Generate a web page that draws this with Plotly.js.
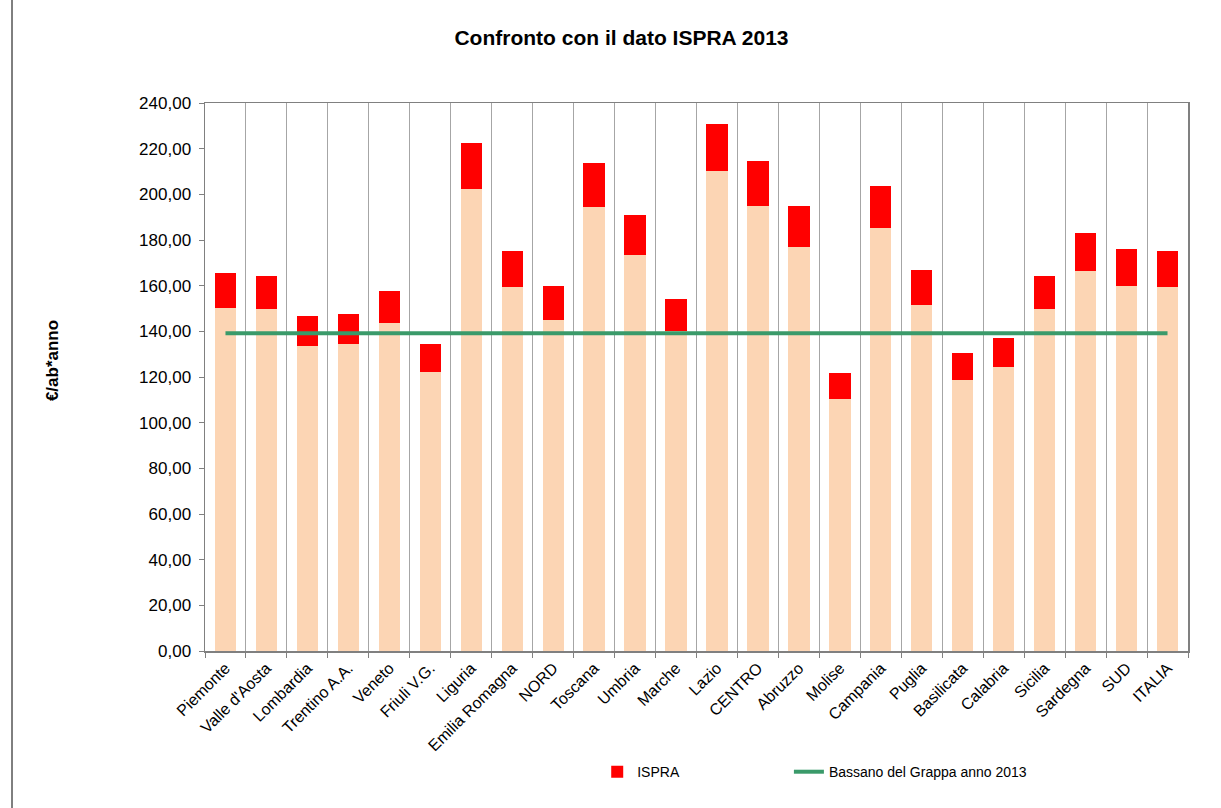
<!DOCTYPE html>
<html>
<head>
<meta charset="utf-8">
<script src="https://cdn.plot.ly/plotly-3.0.1.min.js"></script>
<style>html,body{margin:0;padding:0;background:#fff;}#chart{width:1221px;height:808px;}</style>
</head>
<body>
<div id="chart"></div>
<script>
const categories = ["Piemonte","Valle d'Aosta","Lombardia","Trentino A.A.","Veneto","Friuli V.G.","Liguria","Emilia Romagna","NORD","Toscana","Umbria","Marche","Lazio","CENTRO","Abruzzo","Molise","Campania","Puglia","Basilicata","Calabria","Sicilia","Sardegna","SUD","ITALIA"];
const baseValues = [150.1,149.8,133.6,134.3,143.5,122.1,202.2,159.3,145.0,194.3,173.5,140.3,210.2,194.8,177.0,110.2,185.1,151.4,118.6,124.3,149.7,166.3,159.9,159.3];
const ispraTotals = [165.4,164.1,146.7,147.5,157.5,134.3,222.4,175.1,159.7,213.7,190.8,154.0,230.8,214.6,194.8,121.6,203.5,166.7,130.4,137.0,164.1,182.9,175.9,175.1];
const bassanoValue = 139.2;

const ispraTop = ispraTotals.map((t, i) => +(t - baseValues[i]).toFixed(2));
const bassanoLine = categories.map(() => bassanoValue);

const traces = [
  {type:'bar', x:categories, y:baseValues, name:'base', showlegend:false,
   marker:{color:'#FCD5B4'}, hoverinfo:'y'},
  {type:'bar', x:categories, y:ispraTop, name:'ISPRA', legend:'legend',
   marker:{color:'#FF0000'}, customdata:ispraTotals, hovertemplate:'%{customdata}<extra>ISPRA</extra>'},
  {type:'scatter', mode:'lines', x:categories, y:bassanoLine, name:'Bassano del Grappa anno 2013', legend:'legend2',
   line:{color:'#3A9A6A', width:4}}
];

const legendCommon = {orientation:'h', y:-0.221, yanchor:'middle', font:{size:14}, bgcolor:'rgba(0,0,0,0)'};

const layout = {
  width:1221, height:808,
  margin:{l:205, r:33, t:103, b:157},
  barmode:'stack', bargap:0.48,
  separators:',.',
  paper_bgcolor:'#fff', plot_bgcolor:'#fff',
  font:{family:'"Liberation Sans", Arial, sans-serif', color:'#000', size:16},
  title:{text:'<b>Confronto con il dato ISPRA 2013</b>', font:{size:21, family:'"Liberation Sans", Arial, sans-serif'},
         x:0.509, xref:'container', xanchor:'center', y:0.953, yref:'container', yanchor:'middle'},
  xaxis:{type:'category', tickangle:-45, showgrid:true, gridcolor:'#A6A6A6', gridwidth:1,
         tickson:'boundaries', ticks:'outside', ticklen:5, tickcolor:'#808080',
         showline:true, linecolor:'#808080', linewidth:1.5, mirror:true,
         tickfont:{size:16}},
  yaxis:{range:[0,240], dtick:20, tickformat:'.2f', showgrid:false, zeroline:false,
         ticks:'outside', ticklen:5, tickcolor:'#808080', ticklabelstandoff:4,
         showline:true, linecolor:'#808080', linewidth:1.5, mirror:true,
         tickfont:{size:17}},
  showlegend:true,
  legend:Object.assign({x:0.399, xanchor:'left'}, legendCommon),
  legend2:Object.assign({x:0.594, xanchor:'left'}, legendCommon),
  annotations:[
    {text:'<b>€/ab*anno</b>', textangle:-90, xref:'paper', yref:'paper', x:(52-205)/983, y:0.529,
     xanchor:'center', yanchor:'middle', showarrow:false, font:{size:17}}
  ],
  shapes:[
    {type:'line', xref:'paper', yref:'paper', x0:(12-205)/983, x1:(12-205)/983, y0:-157/548, y1:1+103/548,
     line:{color:'#000', width:1}}
  ]
};

Plotly.newPlot('chart', traces, layout, {displayModeBar:false, staticPlot:true});
</script>
</body>
</html>
